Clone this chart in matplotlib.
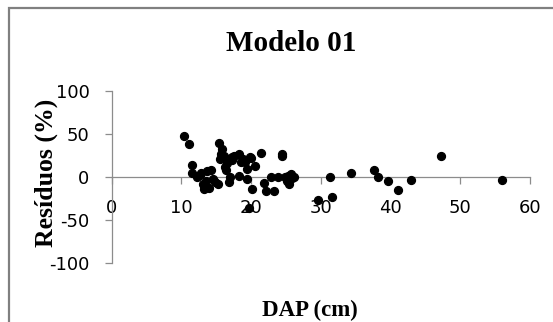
import matplotlib.pyplot as plt
from matplotlib.patches import Rectangle

plt.rcParams['axes.unicode_minus'] = False

# DAP (cm) and residuals (%) for Modelo 01
dap = [10.4, 11.1, 11.5, 11.5, 12.3, 12.8, 13.1, 13.3, 13.5, 13.7,
       14.2, 14.0, 14.5, 15.3, 15.4, 15.5, 15.9, 16.1, 16.3, 16.6,
       17.0, 16.9, 17.2, 17.5, 18.2, 18.3, 18.9, 19.1, 19.4, 19.4,
       19.7, 19.8, 20.1, 20.5, 21.4, 21.9, 22.2, 22.9, 23.3, 23.8,
       24.4, 24.5, 24.9, 25.1, 25.3, 25.5, 25.7, 25.9, 26.2, 29.6,
       31.4, 31.6, 34.4, 37.7, 38.2, 39.7, 41.1, 42.9, 47.2, 56.0,
       13.2, 14.8, 15.7, 16.4, 17.3, 18.6, 12.6, 20.0]
residuo = [47.1, 38.2, 13.9, 4.6, 0.4, 4.6, -8.1, -13.9, -4.2, 7.3,
           8.5, -12.7, -2.3, -8.1, 39.0, 20.8, 32.4, 24.3, 11.2, 16.2,
           -0.4, -6.0, 22.8, 24.3, 1.5, 26.6, 20.8, 17.0, 9.3, -2.3,
           -36.0, 23.6, -13.9, 12.4, 27.8, -6.6, -15.8, 0.4, -15.8, -0.4,
           26.6, 24.0, -0.4, -4.7, 1.2, -7.5, 3.1, -0.8, 0.4, -27.0,
           0.0, -23.6, 5.0, 8.3, 0.4, -4.0, -14.6, -3.5, 24.0, -3.5,
           -10.0, -6.0, 27.0, 8.0, 20.0, 17.0, 2.5, 22.0]

xticks = [0, 10, 20, 30, 40, 50, 60]
yticks = [-100, -50, 0, 50, 100]

fig = plt.figure(figsize=(5.53, 3.22), dpi=100)
ax = fig.add_axes([0.202, 0.182, 0.756, 0.536])

ax.scatter(dap, residuo, s=32, color='black', zorder=3)

ax.set_xlim(0, 60)
ax.set_ylim(-100, 100)
ax.set_xticks(xticks)
ax.set_yticks(yticks)

# axes cross at zero, Excel style
ax.spines['left'].set_position(('data', 0))
ax.spines['bottom'].set_position(('data', 0))
ax.spines['top'].set_visible(False)
ax.spines['right'].set_visible(False)
for s in ['left', 'bottom']:
    ax.spines[s].set_color('#8c8c8c')
    ax.spines[s].set_linewidth(0.9)

tick_font = ['Liberation Sans Narrow', 'DejaVu Sans']
ax.tick_params(axis='both', direction='out', length=5, width=0.9, color='#8c8c8c')
ax.tick_params(axis='x', pad=11)
ax.tick_params(axis='y', pad=11)
for lab in ax.get_xticklabels() + ax.get_yticklabels():
    lab.set_family(tick_font)
    lab.set_fontsize(13)

fig.text(0.527, 0.866, 'Modelo 01', ha='center', va='center',
         family='Liberation Serif', weight='bold', fontsize=21)
fig.text(0.083, 0.462, 'Resíduos (%)', ha='center', va='center', rotation=90,
         family='Liberation Serif', weight='bold', fontsize=18.5)
fig.text(0.56, 0.037, 'DAP (cm)', ha='center', va='center',
         family='Liberation Serif', weight='bold', fontsize=16.5)

# chart area border
fig.patches.append(Rectangle((8.5 / 553, -0.1), 1.2, 1.1 - 7.5 / 322,
                             transform=fig.transFigure, fill=False,
                             edgecolor='#808080', linewidth=1.6))

fig.savefig('out.png', dpi=100)
